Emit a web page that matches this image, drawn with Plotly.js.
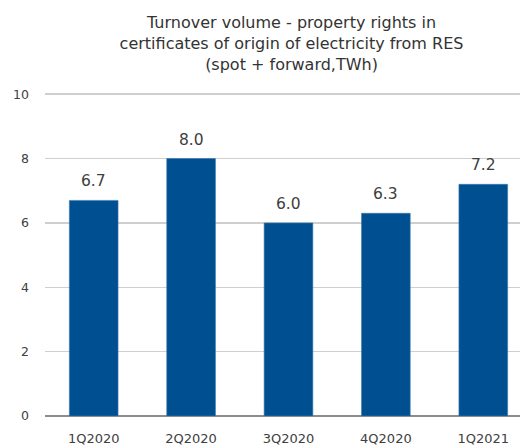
<!DOCTYPE html>
<html>
<head>
<meta charset="utf-8">
<script src="https://cdn.plot.ly/plotly-3.0.1.min.js"></script>
<style>html,body{margin:0;padding:0;background:#fff;}#chart{width:520px;height:447px;}</style>
</head>
<body>
<div id="chart"></div>
<script>
const categories = ['1Q2020', '2Q2020', '3Q2020', '4Q2020', '1Q2021'];
const volumes = [6.7, 8.0, 6.0, 6.3, 7.2];
const labels = ['6.7', '8.0', '6.0', '6.3', '7.2'];
const yTicks = [0, 2, 4, 6, 8, 10];

const font = 'DejaVu Sans, Verdana, sans-serif';

const trace = {
  type: 'bar',
  x: categories,
  y: volumes,
  marker: {color: '#004f91', line: {color: '#3a78b0', width: 0.6}},
  width: 0.5,
  hoverinfo: 'skip'
};

const annotations = categories.map((c, i) => ({
  x: c, y: volumes[i], text: labels[i],
  xref: 'x', yref: 'y', showarrow: false,
  yanchor: 'bottom', yshift: 8,
  font: {family: font, size: 15.5, color: '#404040'}
}));

const layout = {
  width: 520, height: 447,
  margin: {l: 45, r: 0, t: 91, b: 31},
  paper_bgcolor: '#fff', plot_bgcolor: '#fff',
  title: {
    text: 'Turnover volume - property rights in<br>certificates of origin of electricity from RES<br>(spot + forward,TWh)',
    font: {family: font, size: 16, color: '#333'},
    x: 0.519, xanchor: 'center', xref: 'paper',
    y: 0.937, yanchor: 'middle', yref: 'container'
  },
  xaxis: {
    type: 'category',
    range: [-0.5, 4.377],
    showgrid: false, showline: false, zeroline: false,
    ticks: '', ticklabelstandoff: 13,
    tickfont: {family: font, size: 13, color: '#404040'}
  },
  yaxis: {
    range: [0, 10.1],
    tickvals: yTicks,
    showgrid: true, gridcolor: '#cfcfcf', gridwidth: 1.5,
    zeroline: true, zerolinecolor: '#8c8c8c', zerolinewidth: 1.5,
    showline: false, ticks: '', ticklabelstandoff: 15,
    tickfont: {family: font, size: 12.5, color: '#404040'}
  },
  annotations: annotations,
  showlegend: false,
  bargap: 0.5
};

Plotly.newPlot('chart', [trace], layout, {displayModeBar: false, staticPlot: true});
</script>
</body>
</html>
